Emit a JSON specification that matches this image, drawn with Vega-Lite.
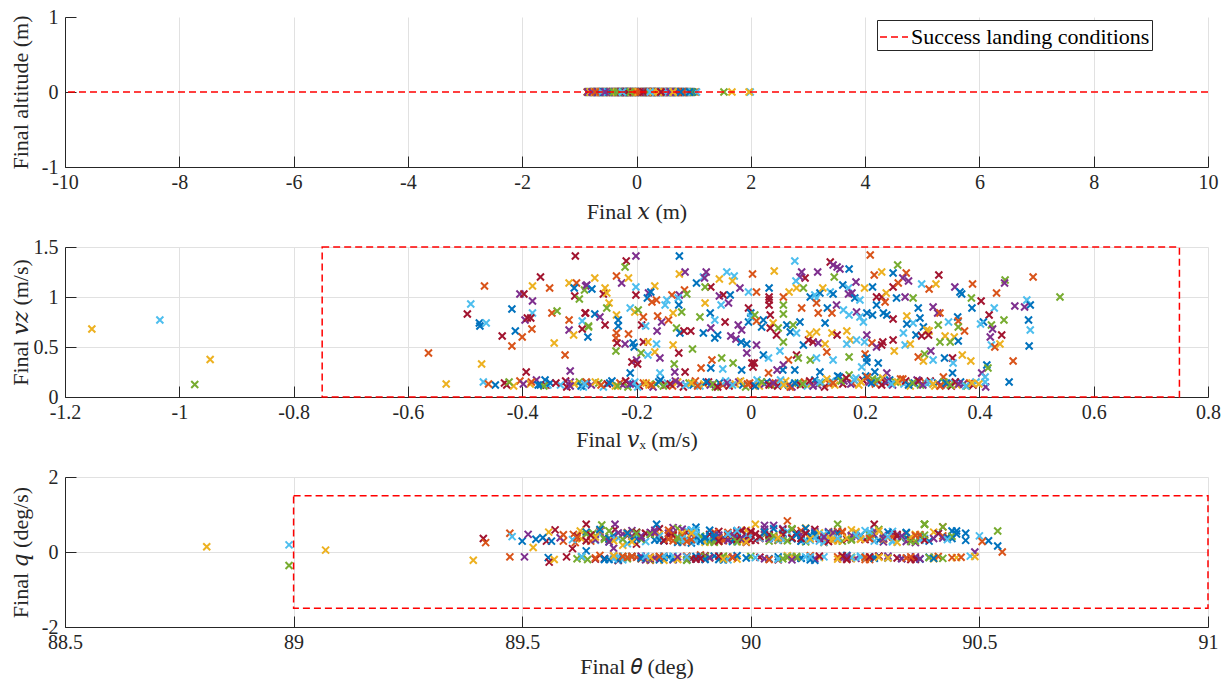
{
  "$schema": "https://vega.github.io/schema/vega-lite/v6.json",
  "background": "white",
  "padding": {"left": 8, "top": 7, "right": 10, "bottom": 6},
  "spacing": 80,
  "bounds": "flush",
  "config": {
    "view": {"stroke": null},
    "font": "Liberation Serif",
    "axis": {
      "labelFont": "Liberation Serif", "labelFontSize": 20, "labelColor": "#262626",
      "titleFont": "Liberation Serif, DejaVu Serif", "titleFontSize": 22, "titleFontWeight": "normal", "titleColor": "#262626",
      "domainColor": "#262626", "domainWidth": 1, "tickColor": "#262626", "tickWidth": 1, "tickSize": -11,
      "gridColor": "#e1e1e1", "gridWidth": 1, "labelFlush": false, "labelOverlap": false,
      "labelExpr": "'' + datum.value"
    },
    "axisX": {"titleY": 44, "titleBaseline": "middle", "labelPadding": 16},
    "axisY": {"titleX": -45, "titleY": 75, "titleBaseline": "middle", "titleAngle": -90, "titleAlign": "center", "labelPadding": 18}
  },
  "datasets": {
    "runs": [
{"c":2,"x":1.67,"vx":-1.153,"vz":0.68,"th":88.81,"q":0.14},
{"c":5,"x":1.99,"vx":-1.034,"vz":0.77,"th":88.99,"q":0.19},
{"c":4,"x":1.53,"vx":-0.973,"vz":0.125,"th":88.99,"q":-0.36},
{"c":2,"x":1.97,"vx":-0.946,"vz":0.375,"th":89.07,"q":0.05},
{"c":6,"x":0.42,"vx":-0.307,"vz":1.41,"th":89.415,"q":0.36},
{"c":6,"x":-0.31,"vx":-0.368,"vz":1.20,"th":89.61,"q":0.09},
{"c":1,"x":0.77,"vx":-0.466,"vz":1.11,"th":89.473,"q":0.50},
{"c":2,"x":-0.55,"vx":-0.382,"vz":1.11,"th":89.558,"q":0.53},
{"c":1,"x":0.12,"vx":-0.352,"vz":1.09,"th":89.59,"q":0.29},
{"c":2,"x":0.63,"vx":-0.318,"vz":1.14,"th":89.83,"q":0.44},
{"c":1,"x":-0.72,"vx":-0.305,"vz":1.14,"th":89.616,"q":0.25},
{"c":0,"x":0.28,"vx":-0.309,"vz":1.09,"th":89.50,"q":0.29},
{"c":3,"x":-0.18,"vx":-0.289,"vz":1.11,"th":89.513,"q":0.47},
{"c":4,"x":0.91,"vx":-0.291,"vz":1.07,"th":89.655,"q":0.50},
{"c":6,"x":-0.43,"vx":-0.308,"vz":1.01,"th":89.572,"q":0.59},
{"c":4,"x":0.05,"vx":-0.300,"vz":0.98,"th":89.74,"q":-0.12},
{"c":3,"x":0.57,"vx":-0.404,"vz":1.03,"th":89.583,"q":0.38},
{"c":6,"x":-0.64,"vx":-0.397,"vz":1.03,"th":89.553,"q":0.29},
{"c":3,"x":0.33,"vx":-0.382,"vz":0.96,"th":89.505,"q":-0.13},
{"c":5,"x":-0.09,"vx":-0.490,"vz":0.93,"th":89.478,"q":0.41},
{"c":6,"x":0.74,"vx":-0.496,"vz":0.83,"th":89.597,"q":-0.13},
{"c":0,"x":-0.27,"vx":-0.418,"vz":0.88,"th":89.53,"q":0.34},
{"c":5,"x":0.46,"vx":-0.382,"vz":0.84,"th":89.71,"q":0.37},
{"c":0,"x":-0.81,"vx":-0.475,"vz":0.74,"th":89.545,"q":0.38},
{"c":0,"x":0.19,"vx":-0.474,"vz":0.71,"th":89.557,"q":-0.15},
{"c":5,"x":0.85,"vx":-0.463,"vz":0.74,"th":89.66,"q":0.31},
{"c":3,"x":-0.37,"vx":-0.395,"vz":0.77,"th":89.70,"q":0.10},
{"c":6,"x":0.67,"vx":-0.391,"vz":0.79,"th":89.559,"q":-0.27},
{"c":6,"x":-0.05,"vx":-0.385,"vz":0.79,"th":89.703,"q":0.60},
{"c":1,"x":0.38,"vx":-0.348,"vz":0.84,"th":89.612,"q":0.47},
{"c":4,"x":-0.59,"vx":-0.339,"vz":0.86,"th":89.674,"q":0.72},
{"c":1,"x":1.03,"vx":-0.318,"vz":0.77,"th":89.473,"q":-0.13},
{"c":5,"x":-0.14,"vx":-0.295,"vz":0.76,"th":89.77,"q":0.28},
{"c":6,"x":0.24,"vx":-0.289,"vz":0.84,"th":89.64,"q":0.74},
{"c":4,"x":-0.68,"vx":-0.284,"vz":0.71,"th":89.643,"q":-0.20},
{"c":3,"x":0.54,"vx":-0.318,"vz":0.67,"th":89.703,"q":0.74},
{"c":2,"x":-0.22,"vx":-0.310,"vz":0.62,"th":89.627,"q":0.56},
{"c":6,"x":0.81,"vx":-0.295,"vz":0.68,"th":89.68,"q":-0.17},
{"c":0,"x":0.09,"vx":-0.285,"vz":0.60,"th":89.64,"q":0.53},
{"c":0,"x":-0.47,"vx":-0.412,"vz":0.66,"th":89.564,"q":0.29},
{"c":6,"x":0.35,"vx":-0.435,"vz":0.61,"th":89.62,"q":0.42},
{"c":1,"x":-0.76,"vx":-0.383,"vz":0.68,"th":89.59,"q":0.46},
{"c":1,"x":0.69,"vx":-0.400,"vz":0.60,"th":89.67,"q":-0.09},
{"c":1,"x":-0.02,"vx":-0.418,"vz":0.51,"th":89.73,"q":0.52},
{"c":2,"x":0.22,"vx":-0.344,"vz":0.54,"th":89.524,"q":0.12},
{"c":1,"x":-0.61,"vx":-0.564,"vz":0.44,"th":89.42,"q":0.25},
{"c":2,"x":0.48,"vx":-0.471,"vz":0.33,"th":89.57,"q":-0.20},
{"c":1,"x":-0.33,"vx":-0.325,"vz":0.42,"th":89.69,"q":0.33},
{"c":6,"x":0.88,"vx":-0.393,"vz":0.25,"th":89.75,"q":0.21},
{"c":3,"x":-0.11,"vx":-0.316,"vz":0.26,"th":89.79,"q":-0.15},
{"c":2,"x":0.31,"vx":-0.533,"vz":0.13,"th":89.393,"q":-0.22},
{"c":6,"x":-0.52,"vx":-0.427,"vz":0.12,"th":89.66,"q":-0.19},
{"c":1,"x":0.72,"vx":-0.404,"vz":0.16,"th":89.81,"q":-0.11},
{"c":2,"x":-0.29,"vx":-0.386,"vz":0.13,"th":89.63,"q":0.35},
{"c":3,"x":0.14,"vx":-0.375,"vz":0.17,"th":89.88,"q":0.45},
{"c":0,"x":-0.84,"vx":-0.368,"vz":0.12,"th":89.64,"q":0.03},
{"c":0,"x":0.59,"vx":-0.360,"vz":0.17,"th":89.72,"q":-0.16},
{"c":6,"x":-0.16,"vx":-0.358,"vz":0.12,"th":89.85,"q":0.26},
{"c":5,"x":0.43,"vx":-0.355,"vz":0.12,"th":89.76,"q":-0.18},
{"c":6,"x":-0.70,"vx":-0.324,"vz":0.16,"th":89.93,"q":0.55},
{"c":3,"x":0.26,"vx":-0.316,"vz":0.15,"th":89.68,"q":0.39},
{"c":4,"x":-0.08,"vx":-0.300,"vz":0.15,"th":89.91,"q":-0.14},
{"c":5,"x":0.95,"vx":-0.293,"vz":0.10,"th":89.78,"q":0.48},
{"c":0,"x":-0.39,"vx":-0.287,"vz":0.14,"th":89.86,"q":-0.21},
{"c":3,"x":0.61,"vx":-0.201,"vz":1.41,"th":89.96,"q":0.34},
{"c":6,"x":-0.24,"vx":-0.218,"vz":1.36,"th":89.80,"q":0.62},
{"c":4,"x":0.07,"vx":-0.220,"vz":1.30,"th":90.04,"q":0.29},
{"c":0,"x":-0.58,"vx":-0.125,"vz":1.41,"th":89.794,"q":0.74},
{"c":2,"x":0.79,"vx":-0.273,"vz":1.19,"th":89.72,"q":0.18},
{"c":1,"x":-0.12,"vx":-0.235,"vz":1.21,"th":89.89,"q":-0.08},
{"c":3,"x":0.36,"vx":-0.226,"vz":1.14,"th":89.83,"q":0.65},
{"c":2,"x":-0.79,"vx":-0.214,"vz":1.19,"th":90.01,"q":0.74},
{"c":3,"x":0.53,"vx":-0.287,"vz":1.12,"th":90.03,"q":0.71},
{"c":0,"x":-0.35,"vx":-0.278,"vz":1.08,"th":89.70,"q":0.44},
{"c":2,"x":0.17,"vx":-0.255,"vz":1.09,"th":89.95,"q":-0.13},
{"c":6,"x":-0.66,"vx":-0.258,"vz":1.03,"th":90.11,"q":0.36},
{"c":2,"x":0.84,"vx":-0.252,"vz":1.04,"th":89.84,"q":-0.19},
{"c":5,"x":-0.20,"vx":-0.201,"vz":1.10,"th":90.07,"q":0.51},
{"c":6,"x":0.41,"vx":-0.201,"vz":1.02,"th":89.92,"q":0.40},
{"c":2,"x":-0.46,"vx":-0.168,"vz":1.11,"th":90.15,"q":-0.15},
{"c":3,"x":0.03,"vx":-0.179,"vz":1.04,"th":89.74,"q":0.57},
{"c":0,"x":0.66,"vx":-0.175,"vz":1.05,"th":90.19,"q":0.32},
{"c":0,"x":-0.74,"vx":-0.181,"vz":0.99,"th":89.87,"q":0.24},
{"c":2,"x":0.29,"vx":-0.125,"vz":1.23,"th":90.08,"q":-0.10},
{"c":3,"x":-0.07,"vx":-0.115,"vz":1.25,"th":89.99,"q":0.46},
{"c":1,"x":0.93,"vx":-0.116,"vz":1.07,"th":90.08,"q":0.83},
{"c":1,"x":-0.42,"vx":-0.138,"vz":1.02,"th":89.78,"q":-0.22},
{"c":3,"x":0.49,"vx":-0.125,"vz":1.02,"th":90.22,"q":0.41},
{"c":4,"x":-0.19,"vx":-0.112,"vz":1.03,"th":90.19,"q":0.74},
{"c":0,"x":0.10,"vx":-0.095,"vz":1.14,"th":89.90,"q":0.30},
{"c":5,"x":-0.63,"vx":-0.083,"vz":1.20,"th":90.13,"q":-0.16},
{"c":3,"x":0.71,"vx":-0.078,"vz":1.25,"th":89.82,"q":0.50},
{"c":3,"x":-0.30,"vx":-0.081,"vz":1.19,"th":90.26,"q":0.35},
{"c":6,"x":0.21,"vx":-0.070,"vz":1.10,"th":90.27,"q":0.74},
{"c":4,"x":-0.86,"vx":-0.080,"vz":1.10,"th":89.94,"q":-0.11},
{"c":2,"x":0.56,"vx":-0.055,"vz":1.18,"th":90.05,"q":0.43},
{"c":5,"x":-0.10,"vx":-0.042,"vz":1.25,"th":89.86,"q":0.58},
{"c":5,"x":0.37,"vx":-0.029,"vz":1.21,"th":90.31,"q":0.27},
{"c":2,"x":-0.53,"vx":-0.032,"vz":1.16,"th":89.97,"q":-0.19},
{"c":3,"x":0.82,"vx":-0.019,"vz":1.09,"th":90.17,"q":0.54},
{"c":5,"x":-0.26,"vx":-0.004,"vz":1.05,"th":89.73,"q":0.22},
{"c":3,"x":0.13,"vx":-0.055,"vz":1.01,"th":90.36,"q":-0.13},
{"c":6,"x":-0.69,"vx":-0.048,"vz":1.02,"th":90.10,"q":0.47},
{"c":0,"x":0.62,"vx":-0.036,"vz":1.02,"th":89.88,"q":0.36},
{"c":3,"x":-0.15,"vx":-0.039,"vz":0.94,"th":90.23,"q":-0.17},
{"c":5,"x":0.27,"vx":-0.052,"vz":0.92,"th":89.67,"q":0.48},
{"c":2,"x":-0.45,"vx":-0.080,"vz":0.94,"th":90.33,"q":0.39},
{"c":6,"x":0.97,"vx":-0.004,"vz":0.89,"th":90.02,"q":-0.14},
{"c":0,"x":-0.04,"vx":0.000,"vz":0.84,"th":89.81,"q":0.30},
{"c":6,"x":0.44,"vx":-0.290,"vz":0.84,"th":90.14,"q":0.60},
{"c":0,"x":-0.78,"vx":-0.273,"vz":0.83,"th":89.93,"q":-0.20},
{"c":3,"x":0.16,"vx":-0.264,"vz":0.80,"th":90.29,"q":0.45},
{"c":4,"x":-0.34,"vx":-0.284,"vz":0.70,"th":89.76,"q":0.34},
{"c":6,"x":0.68,"vx":-0.255,"vz":0.72,"th":90.06,"q":-0.21},
{"c":2,"x":-0.13,"vx":-0.248,"vz":0.94,"th":89.98,"q":0.28},
{"c":4,"x":0.32,"vx":-0.252,"vz":0.89,"th":90.38,"q":0.74},
{"c":2,"x":-0.62,"vx":-0.235,"vz":0.82,"th":89.85,"q":0.41},
{"c":0,"x":0.76,"vx":-0.232,"vz":0.77,"th":90.21,"q":-0.09},
{"c":0,"x":-0.21,"vx":-0.232,"vz":0.71,"th":89.69,"q":0.27},
{"c":1,"x":0.08,"vx":-0.235,"vz":0.64,"th":90.12,"q":0.49},
{"c":1,"x":-0.49,"vx":-0.236,"vz":0.59,"th":89.91,"q":-0.16},
{"c":6,"x":0.58,"vx":-0.234,"vz":0.54,"th":90.25,"q":0.33},
{"c":3,"x":-0.01,"vx":-0.220,"vz":0.53,"th":89.79,"q":0.58},
{"c":1,"x":0.39,"vx":-0.214,"vz":0.63,"th":90.42,"q":0.67},
{"c":4,"x":-0.83,"vx":-0.236,"vz":0.46,"th":90.00,"q":-0.12},
{"c":5,"x":0.23,"vx":-0.211,"vz":0.89,"th":89.75,"q":0.43},
{"c":2,"x":-0.32,"vx":-0.203,"vz":0.85,"th":90.16,"q":0.25},
{"c":4,"x":0.86,"vx":-0.197,"vz":0.87,"th":89.62,"q":-0.18},
{"c":1,"x":-0.06,"vx":-0.188,"vz":0.80,"th":90.09,"q":0.38},
{"c":6,"x":0.52,"vx":-0.191,"vz":0.72,"th":89.86,"q":0.52},
{"c":5,"x":-0.56,"vx":-0.184,"vz":0.71,"th":90.30,"q":-0.15},
{"c":0,"x":0.15,"vx":-0.206,"vz":0.54,"th":89.95,"q":0.46},
{"c":0,"x":-0.23,"vx":-0.204,"vz":0.50,"th":90.18,"q":0.31},
{"c":6,"x":0.73,"vx":-0.188,"vz":0.55,"th":89.71,"q":-0.23},
{"c":2,"x":-0.67,"vx":-0.180,"vz":0.55,"th":90.34,"q":0.49},
{"c":4,"x":0.30,"vx":-0.192,"vz":0.44,"th":89.84,"q":0.63},
{"c":5,"x":-0.17,"vx":-0.180,"vz":0.42,"th":90.20,"q":-0.12},
{"c":6,"x":0.64,"vx":-0.208,"vz":0.35,"th":89.99,"q":0.37},
{"c":3,"x":-0.40,"vx":-0.200,"vz":0.37,"th":90.27,"q":0.56},
{"c":6,"x":0.06,"vx":-0.198,"vz":0.33,"th":89.78,"q":-0.14},
{"c":0,"x":0.90,"vx":-0.211,"vz":0.24,"th":90.11,"q":0.29},
{"c":5,"x":-0.75,"vx":-0.165,"vz":0.53,"th":89.89,"q":0.40},
{"c":2,"x":0.40,"vx":-0.168,"vz":0.45,"th":90.40,"q":-0.18},
{"c":3,"x":-0.28,"vx":-0.159,"vz":0.39,"th":89.72,"q":0.48},
{"c":3,"x":0.18,"vx":-0.164,"vz":0.66,"th":90.07,"q":0.62},
{"c":3,"x":-0.51,"vx":-0.156,"vz":0.75,"th":89.83,"q":-0.21},
{"c":1,"x":0.83,"vx":-0.163,"vz":0.81,"th":90.24,"q":0.35},
{"c":1,"x":-0.09,"vx":-0.173,"vz":0.95,"th":89.65,"q":0.29},
{"c":1,"x":0.47,"vx":-0.165,"vz":0.97,"th":90.13,"q":-0.10},
{"c":1,"x":-0.80,"vx":-0.144,"vz":0.77,"th":89.92,"q":0.53},
{"c":2,"x":0.25,"vx":-0.136,"vz":0.84,"th":90.32,"q":0.44},
{"c":5,"x":-0.36,"vx":-0.147,"vz":0.97,"th":89.80,"q":-0.17},
{"c":5,"x":0.60,"vx":-0.150,"vz":0.92,"th":90.04,"q":0.39},
{"c":5,"x":-0.03,"vx":-0.127,"vz":0.99,"th":90.37,"q":0.31},
{"c":0,"x":0.34,"vx":-0.126,"vz":0.92,"th":89.87,"q":0.58},
{"c":4,"x":-0.60,"vx":-0.121,"vz":0.85,"th":90.22,"q":-0.14},
{"c":4,"x":0.99,"vx":-0.130,"vz":0.69,"th":89.96,"q":0.45},
{"c":0,"x":-0.25,"vx":-0.124,"vz":0.64,"th":90.44,"q":0.36},
{"c":6,"x":0.11,"vx":-0.117,"vz":0.66,"th":89.77,"q":-0.19},
{"c":6,"x":-0.71,"vx":-0.105,"vz":0.66,"th":90.10,"q":0.52},
{"c":2,"x":0.70,"vx":-0.136,"vz":0.52,"th":89.90,"q":0.26},
{"c":6,"x":-0.19,"vx":-0.126,"vz":0.44,"th":90.28,"q":-0.11},
{"c":4,"x":0.45,"vx":-0.102,"vz":0.48,"th":89.68,"q":0.37},
{"c":4,"x":-0.44,"vx":-0.134,"vz":0.33,"th":90.03,"q":0.46},
{"c":6,"x":0.02,"vx":-0.115,"vz":0.25,"th":90.35,"q":-0.20},
{"c":3,"x":0.78,"vx":-0.133,"vz":0.25,"th":89.85,"q":0.61},
{"c":5,"x":-0.57,"vx":-0.159,"vz":0.24,"th":90.17,"q":0.33},
{"c":4,"x":0.26,"vx":-0.089,"vz":0.80,"th":89.94,"q":-0.16},
{"c":0,"x":-0.12,"vx":-0.083,"vz":0.64,"th":90.41,"q":0.50},
{"c":3,"x":0.55,"vx":-0.070,"vz":0.69,"th":89.74,"q":0.42},
{"c":0,"x":-0.85,"vx":-0.071,"vz":0.84,"th":90.06,"q":-0.13},
{"c":5,"x":0.36,"vx":-0.063,"vz":0.77,"th":90.25,"q":0.57},
{"c":6,"x":-0.31,"vx":-0.045,"vz":0.75,"th":89.81,"q":0.30},
{"c":0,"x":0.80,"vx":-0.063,"vz":0.59,"th":90.14,"q":-0.22},
{"c":0,"x":-0.07,"vx":-0.058,"vz":0.62,"th":89.97,"q":0.40},
{"c":3,"x":0.20,"vx":-0.035,"vz":0.61,"th":90.31,"q":0.48},
{"c":3,"x":-0.48,"vx":-0.026,"vz":0.58,"th":89.70,"q":-0.11},
{"c":0,"x":0.65,"vx":-0.017,"vz":0.55,"th":90.09,"q":0.35},
{"c":0,"x":-0.22,"vx":-0.007,"vz":0.53,"th":89.88,"q":0.66},
{"c":3,"x":0.12,"vx":-0.022,"vz":0.72,"th":90.20,"q":-0.18},
{"c":3,"x":-0.65,"vx":-0.016,"vz":0.67,"th":89.76,"q":0.38},
{"c":0,"x":0.92,"vx":-0.004,"vz":0.75,"th":90.39,"q":0.29},
{"c":5,"x":-0.38,"vx":0.000,"vz":0.80,"th":90.01,"q":-0.15},
{"c":3,"x":0.33,"vx":-0.007,"vz":0.44,"th":89.83,"q":0.51},
{"c":1,"x":-0.14,"vx":-0.068,"vz":0.37,"th":90.23,"q":0.43},
{"c":4,"x":0.50,"vx":-0.051,"vz":0.39,"th":89.63,"q":-0.14},
{"c":4,"x":-0.77,"vx":-0.031,"vz":0.34,"th":90.12,"q":0.27},
{"c":1,"x":0.04,"vx":-0.087,"vz":0.29,"th":89.92,"q":0.45},
{"c":0,"x":0.75,"vx":-0.070,"vz":0.29,"th":90.33,"q":-0.17},
{"c":0,"x":-0.27,"vx":-0.016,"vz":0.27,"th":89.79,"q":0.32},
{"c":6,"x":0.19,"vx":0.002,"vz":0.34,"th":90.07,"q":0.59},
{"c":5,"x":-0.54,"vx":-0.049,"vz":0.28,"th":89.95,"q":-0.21},
{"c":1,"x":0.87,"vx":0.209,"vz":1.42,"th":90.19,"q":0.50},
{"c":5,"x":-0.05,"vx":0.077,"vz":1.36,"th":89.86,"q":0.36},
{"c":6,"x":0.42,"vx":0.139,"vz":1.35,"th":90.28,"q":-0.12},
{"c":3,"x":-0.63,"vx":0.144,"vz":1.32,"th":90.05,"q":0.71},
{"c":3,"x":0.28,"vx":0.151,"vz":1.30,"th":89.73,"q":0.44},
{"c":3,"x":-0.20,"vx":0.156,"vz":1.28,"th":90.36,"q":0.25},
{"c":2,"x":0.61,"vx":0.041,"vz":1.26,"th":89.90,"q":-0.19},
{"c":1,"x":-0.42,"vx":0.003,"vz":1.23,"th":90.15,"q":0.39},
{"c":3,"x":0.09,"vx":0.089,"vz":1.25,"th":89.67,"q":0.55},
{"c":6,"x":0.94,"vx":0.095,"vz":1.19,"th":90.26,"q":-0.15},
{"c":3,"x":-0.82,"vx":0.086,"vz":1.20,"th":89.98,"q":0.34},
{"c":3,"x":0.38,"vx":0.117,"vz":1.25,"th":90.11,"q":0.47},
{"c":0,"x":-0.10,"vx":0.172,"vz":1.28,"th":89.82,"q":-0.13},
{"c":4,"x":0.23,"vx":0.146,"vz":1.20,"th":90.43,"q":0.40},
{"c":4,"x":-0.34,"vx":0.257,"vz":1.32,"th":90.38,"q":0.74},
{"c":1,"x":0.68,"vx":0.216,"vz":1.22,"th":89.93,"q":0.28},
{"c":2,"x":-0.58,"vx":0.229,"vz":1.25,"th":90.22,"q":-0.18},
{"c":0,"x":0.14,"vx":0.249,"vz":1.24,"th":89.69,"q":0.37},
{"c":1,"x":0.49,"vx":0.272,"vz":1.24,"th":90.03,"q":0.52},
{"c":3,"x":-0.16,"vx":0.266,"vz":1.19,"th":90.30,"q":-0.11},
{"c":3,"x":0.77,"vx":0.276,"vz":1.16,"th":89.87,"q":0.46},
{"c":5,"x":-0.45,"vx":0.079,"vz":1.16,"th":90.13,"q":0.31},
{"c":4,"x":0.01,"vx":0.092,"vz":1.09,"th":89.78,"q":-0.20},
{"c":2,"x":0.56,"vx":0.080,"vz":1.09,"th":90.40,"q":0.53},
{"c":0,"x":-0.70,"vx":0.032,"vz":1.09,"th":90.00,"q":0.42},
{"c":1,"x":0.30,"vx":0.010,"vz":1.05,"th":89.75,"q":-0.14},
{"c":2,"x":-0.03,"vx":0.067,"vz":1.05,"th":90.18,"q":0.30},
{"c":1,"x":0.85,"vx":0.057,"vz":1.00,"th":89.96,"q":0.49},
{"c":6,"x":-0.29,"vx":0.032,"vz":1.00,"th":90.32,"q":-0.16},
{"c":6,"x":0.17,"vx":0.032,"vz":0.97,"th":89.85,"q":0.39},
{"c":6,"x":-0.61,"vx":0.032,"vz":0.92,"th":90.09,"q":0.60},
{"c":4,"x":0.63,"vx":0.057,"vz":0.92,"th":89.72,"q":-0.12},
{"c":0,"x":-0.08,"vx":0.104,"vz":1.00,"th":90.24,"q":0.44},
{"c":5,"x":0.43,"vx":0.112,"vz":1.02,"th":89.91,"q":0.35},
{"c":0,"x":-0.49,"vx":0.121,"vz":1.04,"th":90.44,"q":0.56},
{"c":5,"x":0.06,"vx":0.115,"vz":0.99,"th":90.06,"q":-0.19},
{"c":2,"x":0.72,"vx":0.126,"vz":1.09,"th":89.80,"q":0.47},
{"c":5,"x":-0.24,"vx":0.139,"vz":1.05,"th":90.16,"q":0.26},
{"c":0,"x":0.35,"vx":0.144,"vz":1.03,"th":89.97,"q":-0.10},
{"c":0,"x":-0.74,"vx":0.161,"vz":1.12,"th":90.34,"q":0.38},
{"c":5,"x":0.24,"vx":0.171,"vz":1.09,"th":89.88,"q":0.58},
{"c":3,"x":-0.13,"vx":0.184,"vz":1.15,"th":90.21,"q":-0.17},
{"c":3,"x":0.90,"vx":0.171,"vz":1.03,"th":89.66,"q":0.33},
{"c":3,"x":-0.37,"vx":0.177,"vz":1.04,"th":90.04,"q":0.45},
{"c":0,"x":0.52,"vx":0.182,"vz":0.99,"th":90.27,"q":-0.14},
{"c":5,"x":-0.02,"vx":0.191,"vz":0.97,"th":89.84,"q":0.40},
{"c":2,"x":0.13,"vx":0.199,"vz":1.09,"th":90.12,"q":0.64},
{"c":0,"x":-0.55,"vx":0.213,"vz":1.10,"th":89.94,"q":-0.21},
{"c":6,"x":0.66,"vx":0.220,"vz":1.00,"th":90.35,"q":0.32},
{"c":6,"x":-0.18,"vx":0.229,"vz":1.00,"th":89.77,"q":0.49},
{"c":2,"x":0.31,"vx":0.237,"vz":1.04,"th":90.08,"q":-0.13},
{"c":0,"x":-0.66,"vx":0.255,"vz":0.99,"th":89.90,"q":0.37},
{"c":3,"x":0.81,"vx":0.270,"vz":1.00,"th":90.29,"q":0.27},
{"c":4,"x":-0.09,"vx":0.284,"vz":0.99,"th":89.73,"q":-0.18},
{"c":6,"x":0.45,"vx":0.249,"vz":1.10,"th":90.19,"q":0.54},
{"c":1,"x":-0.31,"vx":0.258,"vz":1.14,"th":90.42,"q":0.43},
{"c":1,"x":0.07,"vx":0.235,"vz":0.95,"th":89.86,"q":-0.11},
{"c":6,"x":0.96,"vx":0.034,"vz":0.82,"th":90.02,"q":0.36},
{"c":4,"x":-0.43,"vx":0.057,"vz":0.83,"th":89.64,"q":0.48},
{"c":1,"x":0.20,"vx":0.089,"vz":0.89,"th":90.25,"q":-0.20},
{"c":0,"x":-0.84,"vx":0.086,"vz":0.75,"th":89.96,"q":0.31},
{"c":1,"x":0.58,"vx":0.115,"vz":0.94,"th":90.11,"q":0.57},
{"c":1,"x":-0.15,"vx":0.118,"vz":0.84,"th":89.79,"q":-0.15},
{"c":0,"x":0.37,"vx":0.134,"vz":0.89,"th":90.37,"q":0.42},
{"c":1,"x":-0.52,"vx":0.142,"vz":0.84,"th":90.07,"q":0.34},
{"c":3,"x":0.74,"vx":0.150,"vz":0.92,"th":89.89,"q":-0.12},
{"c":5,"x":-0.04,"vx":0.162,"vz":0.87,"th":90.23,"q":0.51},
{"c":5,"x":0.27,"vx":0.172,"vz":0.82,"th":89.70,"q":0.39},
{"c":3,"x":-0.68,"vx":0.185,"vz":0.85,"th":90.14,"q":-0.17},
{"c":5,"x":0.50,"vx":0.191,"vz":0.80,"th":89.99,"q":0.46},
{"c":5,"x":-0.26,"vx":0.197,"vz":0.75,"th":90.31,"q":0.30},
{"c":0,"x":0.11,"vx":0.203,"vz":0.84,"th":89.83,"q":-0.19},
{"c":0,"x":0.89,"vx":0.213,"vz":0.82,"th":90.05,"q":0.62},
{"c":0,"x":-0.41,"vx":0.220,"vz":0.92,"th":89.75,"q":0.35},
{"c":0,"x":0.32,"vx":0.232,"vz":0.84,"th":90.39,"q":-0.14},
{"c":0,"x":-0.12,"vx":0.238,"vz":0.82,"th":89.92,"q":0.45},
{"c":6,"x":0.62,"vx":0.249,"vz":0.78,"th":90.17,"q":0.28},
{"c":2,"x":-0.73,"vx":0.273,"vz":0.81,"th":89.81,"q":-0.22},
{"c":5,"x":0.16,"vx":0.284,"vz":0.74,"th":90.26,"q":0.48},
{"c":0,"x":-0.21,"vx":0.022,"vz":0.77,"th":89.97,"q":0.55},
{"c":0,"x":0.54,"vx":0.019,"vz":0.70,"th":90.10,"q":-0.13},
{"c":4,"x":-0.57,"vx":0.007,"vz":0.82,"th":89.68,"q":0.34},
{"c":1,"x":0.03,"vx":0.010,"vz":0.76,"th":90.33,"q":0.41},
{"c":2,"x":0.79,"vx":0.039,"vz":0.74,"th":89.87,"q":-0.16},
{"c":4,"x":-0.36,"vx":0.048,"vz":0.69,"th":90.20,"q":0.29},
{"c":6,"x":0.25,"vx":0.045,"vz":0.62,"th":89.77,"q":0.50},
{"c":0,"x":-0.06,"vx":0.063,"vz":0.72,"th":90.04,"q":-0.18},
{"c":0,"x":0.70,"vx":0.069,"vz":0.65,"th":89.94,"q":0.38},
{"c":4,"x":-0.80,"vx":0.074,"vz":0.72,"th":90.28,"q":0.60},
{"c":5,"x":0.41,"vx":0.080,"vz":0.64,"th":89.71,"q":-0.11},
{"c":4,"x":-0.17,"vx":0.057,"vz":0.55,"th":90.13,"q":0.44},
{"c":5,"x":0.08,"vx":0.051,"vz":0.46,"th":89.85,"q":0.27},
{"c":6,"x":0.93,"vx":0.034,"vz":0.69,"th":90.36,"q":-0.20},
{"c":3,"x":-0.46,"vx":0.010,"vz":0.52,"th":90.00,"q":0.52},
{"c":0,"x":0.29,"vx":0.022,"vz":0.42,"th":89.74,"q":0.33},
{"c":5,"x":-0.23,"vx":0.031,"vz":0.39,"th":90.22,"q":-0.15},
{"c":6,"x":0.60,"vx":0.006,"vz":0.34,"th":89.91,"q":0.47},
{"c":6,"x":-0.64,"vx":0.004,"vz":0.30,"th":90.15,"q":0.36},
{"c":0,"x":0.18,"vx":0.092,"vz":0.52,"th":89.80,"q":-0.13},
{"c":6,"x":-0.11,"vx":0.101,"vz":0.57,"th":90.41,"q":0.49},
{"c":6,"x":0.84,"vx":0.109,"vz":0.55,"th":90.06,"q":0.31},
{"c":3,"x":-0.39,"vx":0.118,"vz":0.54,"th":89.88,"q":-0.19},
{"c":2,"x":0.47,"vx":0.130,"vz":0.53,"th":90.27,"q":0.42},
{"c":2,"x":-0.01,"vx":0.103,"vz":0.63,"th":89.67,"q":0.58},
{"c":2,"x":0.26,"vx":0.115,"vz":0.65,"th":90.09,"q":-0.12},
{"c":0,"x":-0.76,"vx":0.130,"vz":0.74,"th":89.98,"q":0.37},
{"c":2,"x":0.67,"vx":0.142,"vz":0.64,"th":90.32,"q":0.26},
{"c":6,"x":-0.28,"vx":0.151,"vz":0.62,"th":89.78,"q":-0.17},
{"c":2,"x":0.10,"vx":0.168,"vz":0.66,"th":90.18,"q":0.53},
{"c":2,"x":-0.53,"vx":0.174,"vz":0.57,"th":89.95,"q":0.44},
{"c":5,"x":0.76,"vx":0.168,"vz":0.53,"th":90.24,"q":-0.14},
{"c":5,"x":-0.08,"vx":0.185,"vz":0.57,"th":89.86,"q":0.32},
{"c":3,"x":0.35,"vx":0.203,"vz":0.62,"th":90.12,"q":0.50},
{"c":5,"x":-0.70,"vx":0.199,"vz":0.55,"th":89.72,"q":-0.21},
{"c":1,"x":0.55,"vx":0.212,"vz":0.54,"th":90.35,"q":0.39},
{"c":3,"x":-0.19,"vx":0.220,"vz":0.50,"th":90.03,"q":0.61},
{"c":6,"x":0.22,"vx":0.229,"vz":0.52,"th":89.90,"q":-0.10},
{"c":6,"x":-0.47,"vx":0.231,"vz":0.55,"th":90.21,"q":0.34},
{"c":1,"x":0.91,"vx":0.200,"vz":0.43,"th":89.83,"q":0.47},
{"c":0,"x":-0.14,"vx":0.203,"vz":0.39,"th":90.30,"q":-0.16},
{"c":0,"x":0.39,"vx":0.203,"vz":0.35,"th":89.96,"q":0.28},
{"c":5,"x":-0.59,"vx":0.194,"vz":0.30,"th":90.08,"q":0.55},
{"c":1,"x":0.04,"vx":0.133,"vz":0.45,"th":89.76,"q":-0.18},
{"c":5,"x":0.71,"vx":0.144,"vz":0.37,"th":90.38,"q":0.36},
{"c":4,"x":-0.33,"vx":0.104,"vz":0.37,"th":89.89,"q":0.42},
{"c":5,"x":0.19,"vx":0.115,"vz":0.39,"th":90.16,"q":-0.13},
{"c":6,"x":-0.83,"vx":0.080,"vz":0.42,"th":90.01,"q":0.31},
{"c":4,"x":0.48,"vx":0.083,"vz":0.39,"th":89.69,"q":0.56},
{"c":1,"x":-0.04,"vx":0.066,"vz":0.37,"th":90.26,"q":-0.20},
{"c":3,"x":0.82,"vx":0.057,"vz":0.32,"th":89.93,"q":0.45},
{"c":0,"x":-0.38,"vx":0.056,"vz":0.27,"th":90.11,"q":0.29},
{"c":0,"x":0.12,"vx":0.077,"vz":0.27,"th":89.81,"q":-0.15},
{"c":0,"x":0.58,"vx":0.121,"vz":0.25,"th":90.34,"q":0.51},
{"c":1,"x":-0.25,"vx":0.031,"vz":0.24,"th":90.05,"q":0.38},
{"c":3,"x":0.30,"vx":0.046,"vz":0.27,"th":89.74,"q":-0.12},
{"c":4,"x":-0.67,"vx":0.172,"vz":0.40,"th":90.23,"q":0.43},
{"c":6,"x":0.64,"vx":0.249,"vz":0.57,"th":89.97,"q":0.34},
{"c":2,"x":-0.10,"vx":0.251,"vz":0.46,"th":90.45,"q":-0.15},
{"c":5,"x":0.23,"vx":0.270,"vz":0.52,"th":89.87,"q":0.59},
{"c":2,"x":-0.50,"vx":0.279,"vz":0.53,"th":90.19,"q":0.30},
{"c":5,"x":0.87,"vx":0.267,"vz":0.64,"th":89.77,"q":-0.19},
{"c":0,"x":-0.20,"vx":0.289,"vz":0.62,"th":90.07,"q":0.48},
{"c":0,"x":0.44,"vx":0.273,"vz":0.73,"th":90.29,"q":0.37},
{"c":0,"x":-0.78,"vx":0.223,"vz":0.34,"th":89.92,"q":-0.11},
{"c":3,"x":0.05,"vx":0.238,"vz":0.24,"th":90.14,"q":0.54},
{"c":0,"x":0.69,"vx":0.217,"vz":0.25,"th":89.84,"q":0.26},
{"c":6,"x":-0.32,"vx":0.329,"vz":1.22,"th":90.36,"q":-0.17},
{"c":5,"x":0.15,"vx":0.299,"vz":1.13,"th":90.00,"q":0.41},
{"c":1,"x":-0.62,"vx":0.312,"vz":1.08,"th":89.79,"q":0.49},
{"c":2,"x":0.53,"vx":0.324,"vz":1.13,"th":90.25,"q":-0.14},
{"c":3,"x":-0.09,"vx":0.357,"vz":1.10,"th":89.94,"q":0.35},
{"c":0,"x":0.28,"vx":0.366,"vz":1.05,"th":90.12,"q":0.63},
{"c":0,"x":-0.43,"vx":0.369,"vz":1.03,"th":89.71,"q":-0.21},
{"c":1,"x":0.95,"vx":0.388,"vz":1.13,"th":90.32,"q":0.44},
{"c":4,"x":-0.16,"vx":0.386,"vz":0.99,"th":90.06,"q":0.32},
{"c":6,"x":0.36,"vx":0.403,"vz":0.96,"th":89.86,"q":-0.13},
{"c":1,"x":-0.72,"vx":0.430,"vz":1.04,"th":90.20,"q":0.52},
{"c":4,"x":0.13,"vx":0.445,"vz":1.17,"th":90.54,"q":0.56},
{"c":3,"x":-0.27,"vx":0.444,"vz":1.14,"th":89.98,"q":0.38},
{"c":1,"x":0.59,"vx":0.494,"vz":1.20,"th":90.55,"q":0.00},
{"c":4,"x":-0.52,"vx":0.541,"vz":1.00,"th":90.38,"q":0.74},
{"c":5,"x":0.80,"vx":0.483,"vz":0.97,"th":90.50,"q":0.43},
{"c":0,"x":-0.05,"vx":0.489,"vz":0.92,"th":90.52,"q":0.30},
{"c":3,"x":0.46,"vx":0.462,"vz":0.91,"th":90.49,"q":0.00},
{"c":3,"x":-0.35,"vx":0.479,"vz":0.90,"th":90.27,"q":0.46},
{"c":0,"x":0.21,"vx":0.486,"vz":0.77,"th":90.54,"q":0.16},
{"c":5,"x":-0.81,"vx":0.489,"vz":0.67,"th":89.90,"q":-0.17},
{"c":0,"x":0.68,"vx":0.487,"vz":0.51,"th":90.47,"q":0.50},
{"c":0,"x":-0.13,"vx":0.387,"vz":0.89,"th":90.45,"q":0.56},
{"c":5,"x":0.33,"vx":0.426,"vz":0.89,"th":90.15,"q":0.29},
{"c":6,"x":-0.55,"vx":0.417,"vz":0.82,"th":89.82,"q":0.44},
{"c":0,"x":0.07,"vx":0.407,"vz":0.75,"th":90.37,"q":-0.19},
{"c":5,"x":0.86,"vx":0.402,"vz":0.73,"th":90.02,"q":0.37},
{"c":4,"x":-0.24,"vx":0.421,"vz":0.72,"th":89.75,"q":0.53},
{"c":3,"x":0.40,"vx":0.423,"vz":0.68,"th":90.21,"q":-0.12},
{"c":4,"x":-0.65,"vx":0.443,"vz":0.77,"th":90.42,"q":0.67},
{"c":6,"x":0.17,"vx":0.439,"vz":0.62,"th":89.95,"q":0.33},
{"c":3,"x":-0.06,"vx":0.419,"vz":0.60,"th":90.10,"q":-0.16},
{"c":5,"x":0.74,"vx":0.421,"vz":0.52,"th":89.88,"q":0.47},
{"c":1,"x":-0.40,"vx":0.427,"vz":0.50,"th":90.506,"q":0.28},
{"c":2,"x":0.24,"vx":0.436,"vz":0.53,"th":90.30,"q":0.39},
{"c":1,"x":-0.86,"vx":0.459,"vz":0.36,"th":89.73,"q":-0.14},
{"c":0,"x":0.51,"vx":0.413,"vz":0.32,"th":90.17,"q":0.51},
{"c":4,"x":-0.18,"vx":0.415,"vz":0.29,"th":89.97,"q":0.27},
{"c":3,"x":0.09,"vx":0.404,"vz":0.24,"th":90.33,"q":-0.18},
{"c":5,"x":0.63,"vx":0.410,"vz":0.20,"th":89.80,"q":0.42},
{"c":3,"x":-0.30,"vx":0.411,"vz":0.10,"th":90.04,"q":0.36},
{"c":5,"x":1.05,"vx":0.410,"vz":0.15,"th":90.24,"q":-0.11},
{"c":0,"x":-0.60,"vx":0.452,"vz":0.15,"th":89.91,"q":0.58},
{"c":0,"x":0.31,"vx":0.293,"vz":0.89,"th":90.14,"q":0.45},
{"c":0,"x":-0.11,"vx":0.296,"vz":0.79,"th":89.68,"q":-0.20},
{"c":0,"x":0.57,"vx":0.302,"vz":0.70,"th":90.28,"q":0.31},
{"c":2,"x":-0.48,"vx":0.308,"vz":0.67,"th":89.85,"q":0.50},
{"c":2,"x":0.14,"vx":0.312,"vz":0.66,"th":90.08,"q":-0.15},
{"c":3,"x":0.83,"vx":0.319,"vz":0.90,"th":90.40,"q":0.36},
{"c":3,"x":-0.21,"vx":0.327,"vz":0.84,"th":89.76,"q":0.43},
{"c":1,"x":0.38,"vx":0.331,"vz":0.84,"th":90.19,"q":-0.13},
{"c":4,"x":-0.75,"vx":0.328,"vz":0.72,"th":89.93,"q":0.29},
{"c":5,"x":0.00,"vx":0.346,"vz":0.75,"th":90.31,"q":0.55},
{"c":0,"x":0.72,"vx":0.362,"vz":0.80,"th":89.87,"q":-0.18},
{"c":1,"x":-0.37,"vx":0.363,"vz":0.76,"th":90.05,"q":0.40},
{"c":4,"x":0.27,"vx":0.363,"vz":0.70,"th":90.22,"q":0.34},
{"c":1,"x":-0.15,"vx":0.374,"vz":0.66,"th":89.72,"q":-0.12},
{"c":2,"x":0.65,"vx":0.340,"vz":0.61,"th":90.36,"q":0.47},
{"c":2,"x":-0.56,"vx":0.356,"vz":0.60,"th":89.99,"q":0.58},
{"c":0,"x":0.10,"vx":0.363,"vz":0.56,"th":90.13,"q":-0.21},
{"c":4,"x":0.89,"vx":0.349,"vz":0.55,"th":89.84,"q":0.32},
{"c":4,"x":-0.28,"vx":0.331,"vz":0.55,"th":90.26,"q":0.44},
{"c":6,"x":0.42,"vx":0.311,"vz":0.62,"th":89.96,"q":-0.14},
{"c":6,"x":-0.69,"vx":0.299,"vz":0.61,"th":90.09,"q":0.37},
{"c":3,"x":0.19,"vx":0.315,"vz":0.46,"th":89.78,"q":0.52},
{"c":1,"x":-0.02,"vx":0.293,"vz":0.40,"th":90.34,"q":-0.16},
{"c":4,"x":0.78,"vx":0.304,"vz":0.43,"th":89.92,"q":0.28},
{"c":2,"x":-0.44,"vx":0.302,"vz":0.36,"th":90.18,"q":0.49},
{"c":5,"x":0.34,"vx":0.319,"vz":0.37,"th":89.70,"q":-0.19},
{"c":0,"x":-0.12,"vx":0.339,"vz":0.39,"th":90.43,"q":0.38},
{"c":6,"x":0.55,"vx":0.353,"vz":0.39,"th":90.00,"q":0.31},
{"c":5,"x":-0.79,"vx":0.354,"vz":0.34,"th":89.83,"q":-0.11},
{"c":2,"x":0.20,"vx":0.370,"vz":0.42,"th":90.23,"q":0.54},
{"c":2,"x":-0.33,"vx":0.385,"vz":0.36,"th":89.95,"q":0.42},
{"c":0,"x":0.61,"vx":0.353,"vz":0.24,"th":90.11,"q":-0.17},
{"c":1,"x":-0.07,"vx":0.337,"vz":0.20,"th":90.29,"q":0.35},
{"c":5,"x":0.37,"vx":-0.468,"vz":0.15,"th":89.61,"q":0.33},
{"c":0,"x":-0.58,"vx":-0.447,"vz":0.12,"th":89.88,"q":-0.12},
{"c":6,"x":0.12,"vx":-0.431,"vz":0.14,"th":90.07,"q":0.46},
{"c":2,"x":0.79,"vx":-0.415,"vz":0.11,"th":89.74,"q":0.27},
{"c":3,"x":-0.27,"vx":-0.398,"vz":0.13,"th":90.21,"q":-0.17},
{"c":1,"x":0.51,"vx":-0.384,"vz":0.15,"th":89.95,"q":0.52},
{"c":4,"x":-0.70,"vx":-0.362,"vz":0.11,"th":90.33,"q":0.38},
{"c":0,"x":0.04,"vx":-0.351,"vz":0.14,"th":89.69,"q":-0.20},
{"c":5,"x":0.88,"vx":-0.333,"vz":0.12,"th":90.12,"q":0.31},
{"c":6,"x":-0.39,"vx":-0.322,"vz":0.10,"th":89.83,"q":0.44},
{"c":2,"x":0.23,"vx":-0.309,"vz":0.13,"th":90.40,"q":-0.14},
{"c":0,"x":-0.13,"vx":-0.297,"vz":0.11,"th":89.97,"q":0.57},
{"c":1,"x":0.66,"vx":-0.288,"vz":0.15,"th":90.18,"q":0.35},
{"c":3,"x":-0.80,"vx":-0.279,"vz":0.12,"th":89.76,"q":-0.11},
{"c":4,"x":0.30,"vx":-0.266,"vz":0.14,"th":90.04,"q":0.42},
{"c":5,"x":-0.05,"vx":-0.258,"vz":0.10,"th":90.27,"q":0.29},
{"c":6,"x":0.94,"vx":-0.251,"vz":0.13,"th":89.87,"q":-0.18},
{"c":0,"x":-0.46,"vx":-0.243,"vz":0.16,"th":90.14,"q":0.50},
{"c":2,"x":0.18,"vx":-0.237,"vz":0.11,"th":89.66,"q":0.40},
{"c":1,"x":-0.21,"vx":-0.229,"vz":0.14,"th":90.35,"q":-0.13},
{"c":3,"x":0.60,"vx":-0.224,"vz":0.12,"th":89.92,"q":0.34},
{"c":4,"x":-0.62,"vx":-0.215,"vz":0.10,"th":90.09,"q":0.61},
{"c":0,"x":0.07,"vx":-0.206,"vz":0.13,"th":89.80,"q":-0.21},
{"c":5,"x":0.73,"vx":-0.203,"vz":0.15,"th":90.24,"q":0.45},
{"c":6,"x":-0.34,"vx":-0.195,"vz":0.11,"th":89.99,"q":0.26},
{"c":1,"x":0.27,"vx":-0.188,"vz":0.14,"th":90.44,"q":-0.15},
{"c":2,"x":-0.11,"vx":-0.178,"vz":0.12,"th":89.73,"q":0.48},
{"c":3,"x":0.84,"vx":-0.171,"vz":0.10,"th":90.16,"q":0.37},
{"c":4,"x":-0.53,"vx":-0.166,"vz":0.13,"th":89.90,"q":-0.12},
{"c":0,"x":0.42,"vx":-0.158,"vz":0.17,"th":90.30,"q":0.53},
{"c":6,"x":-0.02,"vx":-0.149,"vz":0.12,"th":89.64,"q":0.30},
{"c":5,"x":0.57,"vx":-0.146,"vz":0.14,"th":90.06,"q":-0.19},
{"c":1,"x":-0.75,"vx":-0.137,"vz":0.11,"th":89.85,"q":0.43},
{"c":2,"x":0.15,"vx":-0.128,"vz":0.15,"th":90.22,"q":0.59},
{"c":3,"x":-0.30,"vx":-0.123,"vz":0.13,"th":89.96,"q":-0.14},
{"c":6,"x":0.69,"vx":-0.118,"vz":0.10,"th":90.38,"q":0.32},
{"c":4,"x":-0.17,"vx":-0.108,"vz":0.14,"th":89.78,"q":0.47},
{"c":0,"x":0.34,"vx":-0.101,"vz":0.12,"th":90.11,"q":-0.16},
{"c":1,"x":-0.66,"vx":-0.097,"vz":0.16,"th":89.93,"q":0.36},
{"c":5,"x":0.91,"vx":-0.089,"vz":0.11,"th":90.26,"q":0.54},
{"c":2,"x":-0.07,"vx":-0.082,"vz":0.13,"th":89.70,"q":-0.10},
{"c":6,"x":0.20,"vx":-0.074,"vz":0.15,"th":90.02,"q":0.41},
{"c":3,"x":-0.48,"vx":-0.071,"vz":0.12,"th":90.34,"q":0.28},
{"c":4,"x":0.62,"vx":-0.062,"vz":0.10,"th":89.86,"q":-0.22},
{"c":0,"x":-0.24,"vx":-0.055,"vz":0.14,"th":90.19,"q":0.49},
{"c":1,"x":0.10,"vx":-0.049,"vz":0.12,"th":89.62,"q":0.38},
{"c":5,"x":0.76,"vx":-0.044,"vz":0.16,"th":90.08,"q":-0.13},
{"c":6,"x":-0.57,"vx":-0.038,"vz":0.11,"th":89.98,"q":0.56},
{"c":2,"x":0.39,"vx":-0.027,"vz":0.13,"th":90.29,"q":0.33},
{"c":3,"x":-0.15,"vx":-0.021,"vz":0.15,"th":89.79,"q":-0.17},
{"c":0,"x":0.53,"vx":-0.014,"vz":0.12,"th":90.13,"q":0.44},
{"c":4,"x":-0.83,"vx":-0.009,"vz":0.10,"th":89.91,"q":0.27},
{"c":1,"x":0.26,"vx":-0.002,"vz":0.14,"th":90.41,"q":-0.12},
{"c":6,"x":-0.36,"vx":0.004,"vz":0.12,"th":89.75,"q":0.52},
{"c":5,"x":0.82,"vx":0.011,"vz":0.17,"th":90.05,"q":0.35},
{"c":2,"x":-0.09,"vx":0.015,"vz":0.11,"th":89.84,"q":-0.20},
{"c":3,"x":0.47,"vx":0.024,"vz":0.13,"th":90.23,"q":0.42},
{"c":0,"x":-0.68,"vx":0.028,"vz":0.15,"th":89.67,"q":0.60},
{"c":4,"x":0.13,"vx":0.036,"vz":0.12,"th":90.10,"q":-0.15},
{"c":1,"x":0.71,"vx":0.043,"vz":0.14,"th":89.94,"q":0.30},
{"c":6,"x":-0.28,"vx":0.047,"vz":0.11,"th":90.32,"q":0.47},
{"c":5,"x":0.32,"vx":0.055,"vz":0.13,"th":89.81,"q":-0.11},
{"c":2,"x":-0.51,"vx":0.061,"vz":0.16,"th":90.17,"q":0.39},
{"c":0,"x":0.97,"vx":0.066,"vz":0.12,"th":89.97,"q":0.55},
{"c":3,"x":-0.19,"vx":0.072,"vz":0.10,"th":90.37,"q":-0.18},
{"c":4,"x":0.44,"vx":0.083,"vz":0.14,"th":89.72,"q":0.34},
{"c":6,"x":-0.77,"vx":0.087,"vz":0.12,"th":90.04,"q":0.46},
{"c":1,"x":0.16,"vx":0.094,"vz":0.15,"th":90.25,"q":-0.14},
{"c":5,"x":-0.04,"vx":0.099,"vz":0.11,"th":89.88,"q":0.28},
{"c":2,"x":0.58,"vx":0.106,"vz":0.13,"th":90.15,"q":0.51},
{"c":0,"x":-0.41,"vx":0.112,"vz":0.17,"th":89.68,"q":-0.19},
{"c":3,"x":0.29,"vx":0.117,"vz":0.12,"th":90.42,"q":0.37},
{"c":4,"x":-0.12,"vx":0.124,"vz":0.14,"th":89.96,"q":0.43},
{"c":6,"x":0.86,"vx":0.129,"vz":0.10,"th":90.20,"q":-0.10},
{"c":1,"x":-0.60,"vx":0.138,"vz":0.13,"th":89.82,"q":0.58},
{"c":5,"x":0.08,"vx":0.141,"vz":0.16,"th":90.07,"q":0.32},
{"c":2,"x":0.64,"vx":0.147,"vz":0.12,"th":90.30,"q":-0.16},
{"c":0,"x":-0.32,"vx":0.155,"vz":0.20,"th":89.90,"q":0.40},
{"c":6,"x":0.22,"vx":0.161,"vz":0.13,"th":90.12,"q":0.49},
{"c":3,"x":-0.85,"vx":0.163,"vz":0.16,"th":89.77,"q":-0.21},
{"c":4,"x":0.48,"vx":0.172,"vz":0.22,"th":90.36,"q":0.29},
{"c":1,"x":-0.06,"vx":0.178,"vz":0.14,"th":90.00,"q":0.54},
{"c":5,"x":0.75,"vx":0.184,"vz":0.19,"th":89.86,"q":-0.13},
{"c":2,"x":-0.44,"vx":0.189,"vz":0.12,"th":90.18,"q":0.36},
{"c":6,"x":0.11,"vx":0.196,"vz":0.17,"th":89.65,"q":0.45},
{"c":0,"x":0.92,"vx":0.201,"vz":0.21,"th":90.27,"q":-0.17},
{"c":3,"x":-0.23,"vx":0.207,"vz":0.15,"th":89.95,"q":0.31},
{"c":4,"x":0.36,"vx":0.213,"vz":0.18,"th":90.09,"q":0.62},
{"c":1,"x":-0.71,"vx":0.218,"vz":0.13,"th":89.80,"q":-0.12},
{"c":5,"x":0.55,"vx":0.226,"vz":0.16,"th":90.33,"q":0.41},
{"c":2,"x":-0.16,"vx":0.231,"vz":0.19,"th":89.99,"q":0.27},
{"c":6,"x":0.24,"vx":0.236,"vz":0.14,"th":90.21,"q":-0.20},
{"c":0,"x":-0.54,"vx":0.243,"vz":0.17,"th":89.73,"q":0.50},
{"c":3,"x":0.80,"vx":0.248,"vz":0.12,"th":90.06,"q":0.38},
{"c":4,"x":0.02,"vx":0.253,"vz":0.15,"th":90.39,"q":-0.15},
{"c":1,"x":-0.37,"vx":0.262,"vz":0.18,"th":89.87,"q":0.33},
{"c":5,"x":0.45,"vx":0.268,"vz":0.13,"th":90.16,"q":0.47},
{"c":6,"x":-0.10,"vx":0.271,"vz":0.16,"th":89.93,"q":-0.11},
{"c":2,"x":0.67,"vx":0.279,"vz":0.11,"th":90.28,"q":0.56},
{"c":0,"x":-0.64,"vx":0.286,"vz":0.14,"th":89.69,"q":0.35},
{"c":3,"x":0.19,"vx":0.291,"vz":0.17,"th":90.03,"q":-0.18},
{"c":4,"x":-0.26,"vx":0.297,"vz":0.12,"th":90.44,"q":0.42},
{"c":1,"x":0.89,"vx":0.304,"vz":0.15,"th":89.83,"q":0.30},
{"c":5,"x":-0.03,"vx":0.309,"vz":0.13,"th":90.13,"q":-0.13},
{"c":6,"x":0.50,"vx":0.314,"vz":0.16,"th":89.97,"q":0.51},
{"c":2,"x":-0.79,"vx":0.322,"vz":0.11,"th":90.35,"q":0.39},
{"c":0,"x":0.28,"vx":0.327,"vz":0.14,"th":89.76,"q":-0.16},
{"c":3,"x":-0.14,"vx":0.333,"vz":0.12,"th":90.22,"q":0.44},
{"c":4,"x":0.70,"vx":0.338,"vz":0.15,"th":89.92,"q":0.26},
{"c":1,"x":-0.47,"vx":0.344,"vz":0.13,"th":90.46,"q":-0.14},
{"c":6,"x":0.09,"vx":0.351,"vz":0.11,"th":90.01,"q":0.48},
{"c":5,"x":0.61,"vx":0.356,"vz":0.14,"th":89.85,"q":0.36},
{"c":2,"x":-0.31,"vx":0.361,"vz":0.12,"th":90.19,"q":-0.19},
{"c":0,"x":0.38,"vx":0.367,"vz":0.15,"th":90.47,"q":0.31},
{"c":3,"x":-0.67,"vx":0.372,"vz":0.13,"th":89.79,"q":0.53},
{"c":4,"x":0.14,"vx":0.378,"vz":0.11,"th":90.10,"q":-0.12},
{"c":1,"x":0.83,"vx":0.383,"vz":0.14,"th":90.31,"q":0.40},
{"c":6,"x":-0.20,"vx":0.389,"vz":0.12,"th":89.95,"q":0.45},
{"c":5,"x":0.40,"vx":0.394,"vz":0.15,"th":90.48,"q":-0.11},
{"c":2,"x":-0.50,"vx":0.399,"vz":0.13,"th":90.24,"q":0.34},
{"c":1,"x":0.05,"vx":-0.459,"vz":0.13,"th":89.66,"q":-0.16},
{"c":4,"x":0.63,"vx":-0.423,"vz":0.15,"th":90.05,"q":0.43},
{"c":0,"x":-0.35,"vx":-0.372,"vz":0.12,"th":89.89,"q":0.29},
{"c":6,"x":0.27,"vx":-0.341,"vz":0.14,"th":90.26,"q":-0.13},
{"c":3,"x":-0.73,"vx":-0.316,"vz":0.11,"th":89.71,"q":0.51},
{"c":5,"x":0.85,"vx":-0.291,"vz":0.13,"th":90.14,"q":0.37},
{"c":2,"x":-0.08,"vx":-0.272,"vz":0.15,"th":89.94,"q":-0.19},
{"c":1,"x":0.41,"vx":-0.262,"vz":0.12,"th":90.37,"q":0.46},
{"c":0,"x":-0.56,"vx":-0.247,"vz":0.14,"th":89.80,"q":0.32},
{"c":4,"x":0.16,"vx":-0.233,"vz":0.11,"th":90.08,"q":-0.14},
{"c":6,"x":0.74,"vx":-0.219,"vz":0.16,"th":89.98,"q":0.58},
{"c":3,"x":-0.29,"vx":-0.211,"vz":0.13,"th":90.29,"q":0.35},
{"c":5,"x":0.32,"vx":-0.198,"vz":0.10,"th":89.63,"q":-0.12},
{"c":2,"x":-0.81,"vx":-0.183,"vz":0.14,"th":90.17,"q":0.41},
{"c":1,"x":0.56,"vx":-0.174,"vz":0.12,"th":89.86,"q":0.28},
{"c":0,"x":-0.01,"vx":-0.161,"vz":0.15,"th":90.40,"q":-0.17},
{"c":4,"x":0.90,"vx":-0.153,"vz":0.11,"th":89.75,"q":0.49},
{"c":6,"x":-0.42,"vx":-0.141,"vz":0.13,"th":90.11,"q":0.36},
{"c":3,"x":0.21,"vx":-0.132,"vz":0.16,"th":89.91,"q":-0.15},
{"c":5,"x":-0.18,"vx":-0.114,"vz":0.12,"th":90.23,"q":0.44},
{"c":2,"x":0.66,"vx":-0.104,"vz":0.14,"th":89.70,"q":0.30},
{"c":1,"x":-0.63,"vx":-0.093,"vz":0.11,"th":90.04,"q":-0.20},
{"c":0,"x":0.35,"vx":-0.078,"vz":0.15,"th":90.34,"q":0.52},
{"c":4,"x":-0.12,"vx":-0.066,"vz":0.13,"th":89.84,"q":0.39},
{"c":6,"x":0.78,"vx":-0.058,"vz":0.10,"th":90.15,"q":-0.11},
{"c":3,"x":-0.38,"vx":-0.041,"vz":0.14,"th":89.96,"q":0.47},
{"c":5,"x":0.13,"vx":-0.032,"vz":0.12,"th":90.43,"q":0.33},
{"c":2,"x":-0.74,"vx":-0.018,"vz":0.16,"th":89.78,"q":-0.14},
{"c":1,"x":0.48,"vx":-0.006,"vz":0.13,"th":90.20,"q":0.55},
{"c":0,"x":-0.22,"vx":0.008,"vz":0.11,"th":89.92,"q":0.38},
{"c":4,"x":0.95,"vx":0.019,"vz":0.15,"th":90.07,"q":-0.18},
{"c":6,"x":0.06,"vx":0.032,"vz":0.12,"th":90.32,"q":0.42},
{"c":3,"x":-0.52,"vx":0.039,"vz":0.14,"th":89.69,"q":0.27},
{"c":5,"x":0.54,"vx":0.052,"vz":0.17,"th":90.12,"q":-0.13},
{"c":2,"x":-0.10,"vx":0.058,"vz":0.12,"th":89.87,"q":0.50},
{"c":1,"x":0.25,"vx":0.069,"vz":0.10,"th":90.26,"q":0.36},
{"c":0,"x":-0.69,"vx":0.077,"vz":0.14,"th":89.99,"q":-0.16},
{"c":4,"x":0.72,"vx":0.091,"vz":0.13,"th":90.38,"q":0.45},
{"c":6,"x":-0.27,"vx":0.103,"vz":0.16,"th":89.81,"q":0.31},
{"c":3,"x":0.17,"vx":0.109,"vz":0.11,"th":90.09,"q":-0.21},
{"c":5,"x":0.87,"vx":0.121,"vz":0.15,"th":89.95,"q":0.48},
{"c":2,"x":-0.45,"vx":0.133,"vz":0.18,"th":90.21,"q":0.37},
{"c":1,"x":0.03,"vx":0.144,"vz":0.14,"th":89.74,"q":-0.12},
{"c":0,"x":0.60,"vx":0.152,"vz":0.21,"th":90.03,"q":0.53},
{"c":4,"x":-0.33,"vx":0.158,"vz":0.16,"th":90.35,"q":0.28},
{"c":6,"x":0.31,"vx":0.167,"vz":0.19,"th":89.88,"q":-0.19},
{"c":3,"x":-0.78,"vx":0.175,"vz":0.13,"th":90.16,"q":0.40},
{"c":5,"x":0.46,"vx":0.181,"vz":0.17,"th":89.97,"q":0.57},
{"c":2,"x":-0.06,"vx":0.193,"vz":0.15,"th":90.28,"q":-0.14},
{"c":1,"x":0.81,"vx":0.204,"vz":0.20,"th":89.82,"q":0.34},
{"c":0,"x":-0.49,"vx":0.211,"vz":0.14,"th":90.10,"q":0.46},
{"c":4,"x":0.20,"vx":0.221,"vz":0.17,"th":90.42,"q":-0.17},
{"c":6,"x":-0.16,"vx":0.229,"vz":0.12,"th":89.93,"q":0.29},
{"c":3,"x":0.68,"vx":0.239,"vz":0.16,"th":90.18,"q":0.51},
{"c":5,"x":-0.61,"vx":0.246,"vz":0.13,"th":89.77,"q":-0.11},
{"c":2,"x":0.38,"vx":0.257,"vz":0.15,"th":90.06,"q":0.38},
{"c":1,"x":-0.02,"vx":0.266,"vz":0.18,"th":90.36,"q":0.44},
{"c":0,"x":0.93,"vx":0.276,"vz":0.12,"th":89.90,"q":-0.20},
{"c":4,"x":-0.40,"vx":0.283,"vz":0.14,"th":90.22,"q":0.32},
{"c":6,"x":0.12,"vx":0.294,"vz":0.16,"th":90.00,"q":0.55},
{"c":3,"x":0.59,"vx":0.301,"vz":0.12,"th":89.84,"q":-0.13},
{"c":5,"x":-0.25,"vx":0.312,"vz":0.15,"th":90.30,"q":0.41},
{"c":2,"x":0.29,"vx":0.319,"vz":0.13,"th":90.13,"q":0.35},
{"c":1,"x":-0.72,"vx":0.331,"vz":0.11,"th":89.96,"q":-0.15},
{"c":0,"x":0.77,"vx":0.342,"vz":0.14,"th":90.45,"q":0.48},
{"c":4,"x":-0.11,"vx":0.349,"vz":0.12,"th":90.08,"q":0.30},
{"c":6,"x":0.43,"vx":0.358,"vz":0.15,"th":89.89,"q":-0.18},
{"c":3,"x":-0.55,"vx":0.364,"vz":0.13,"th":90.33,"q":0.43},
{"c":5,"x":0.24,"vx":0.376,"vz":0.11,"th":90.19,"q":0.37},
{"c":2,"x":0.64,"vx":0.387,"vz":0.14,"th":90.49,"q":-0.12}
    ]
  },
  "vconcat": [
    {
      "width": 1143,
      "height": 150,
      "layer": [
        {
          "data": {"name": "runs"},
          "mark": {"type": "point", "shape": "M-1,-1L1,1M-1,1L1,-1", "filled": false, "size": 49, "strokeWidth": 2, "opacity": 1},
          "encoding": {
            "x": {"field": "x", "type": "quantitative", "title": "Final 𝑥 (m)", "scale": {"domain": [-10, 10], "nice": false, "zero": false}, "axis": {"values": [-10, -8, -6, -4, -2, 0, 2, 4, 6, 8, 10]}},
            "y": {"datum": 0, "type": "quantitative", "title": "Final altitude (m)", "scale": {"domain": [-1, 1], "nice": false}, "axis": {"values": [-1, 0, 1]}},
            "color": {"field": "c", "type": "nominal", "scale": {"domain": [0, 1, 2, 3, 4, 5, 6], "range": ["#0072BD", "#D95319", "#EDB120", "#7E2F8E", "#77AC30", "#4DBEEE", "#A2142F"]}, "legend": null}
          }
        },
        {
          "data": {"values": [{"alt": 0, "label": "Success landing conditions"}]},
          "mark": {"type": "rule", "color": "#FF0000", "strokeWidth": 1.5},
          "encoding": {
            "y": {"field": "alt", "type": "quantitative", "title": "Final altitude (m)"},
            "strokeDash": {
              "field": "label", "type": "nominal",
              "scale": {"range": [[7, 4]]},
              "legend": {
                "title": null, "orient": "none", "legendX": 812, "legendY": 3,
                "symbolType": "stroke", "symbolSize": 784, "symbolStrokeWidth": 1.5, "symbolStrokeColor": "#FF0000",
                "labelFont": "Liberation Serif", "labelFontSize": 22, "labelColor": "#000000", "labelOffset": 2, "labelLimit": 400,
                "padding": 2, "strokeColor": "#262626", "fillColor": "#FFFFFF"
              }
            }
          }
        }
      ]
    },
    {
      "width": 1143,
      "height": 150,
      "layer": [
        {
          "data": {"name": "runs"},
          "mark": {"type": "point", "shape": "M-1,-1L1,1M-1,1L1,-1", "filled": false, "size": 49, "strokeWidth": 2, "opacity": 1},
          "encoding": {
            "x": {"field": "vx", "type": "quantitative", "title": "Final 𝑣ₓ (m/s)", "scale": {"domain": [-1.2, 0.8], "nice": false, "zero": false}, "axis": {"values": [-1.2, -1, -0.8, -0.6, -0.4, -0.2, 0, 0.2, 0.4, 0.6, 0.8], "titleY": 42}},
            "y": {"field": "vz", "type": "quantitative", "title": "Final 𝑣𝑧 (m/s)", "scale": {"domain": [0, 1.5], "nice": false}, "axis": {"values": [0, 0.5, 1, 1.5]}},
            "color": {"field": "c", "type": "nominal", "scale": {"domain": [0, 1, 2, 3, 4, 5, 6], "range": ["#0072BD", "#D95319", "#EDB120", "#7E2F8E", "#77AC30", "#4DBEEE", "#A2142F"]}, "legend": null}
          }
        },
        {
          "data": {"values": [{"lo": -0.75, "hi": 0.75, "bot": 0, "top": 1.5}]},
          "mark": {"type": "rect", "fillOpacity": 0, "stroke": "#FF0000", "strokeWidth": 1.5, "strokeDash": [7, 4]},
          "encoding": {
            "x": {"field": "lo", "type": "quantitative", "title": "Final 𝑣ₓ (m/s)"},
            "x2": {"field": "hi"},
            "y": {"field": "bot", "type": "quantitative", "title": "Final 𝑣𝑧 (m/s)"},
            "y2": {"field": "top"}
          }
        }
      ]
    },
    {
      "width": 1143,
      "height": 150,
      "layer": [
        {
          "data": {"name": "runs"},
          "mark": {"type": "point", "shape": "M-1,-1L1,1M-1,1L1,-1", "filled": false, "size": 49, "strokeWidth": 2, "opacity": 1},
          "encoding": {
            "x": {"field": "th", "type": "quantitative", "title": "Final 𝜃 (deg)", "scale": {"domain": [88.5, 91], "nice": false, "zero": false}, "axis": {"values": [88.5, 89, 89.5, 90, 90.5, 91], "titleY": 39}},
            "y": {"field": "q", "type": "quantitative", "title": "Final 𝑞 (deg/s)", "scale": {"domain": [-2, 2], "nice": false}, "axis": {"values": [-2, 0, 2]}},
            "color": {"field": "c", "type": "nominal", "scale": {"domain": [0, 1, 2, 3, 4, 5, 6], "range": ["#0072BD", "#D95319", "#EDB120", "#7E2F8E", "#77AC30", "#4DBEEE", "#A2142F"]}, "legend": null}
          }
        },
        {
          "data": {"values": [{"lo": 89, "hi": 91, "bot": -1.5, "top": 1.5}]},
          "mark": {"type": "rect", "fillOpacity": 0, "stroke": "#FF0000", "strokeWidth": 1.5, "strokeDash": [7, 4]},
          "encoding": {
            "x": {"field": "lo", "type": "quantitative", "title": "Final 𝜃 (deg)"},
            "x2": {"field": "hi"},
            "y": {"field": "bot", "type": "quantitative", "title": "Final 𝑞 (deg/s)"},
            "y2": {"field": "top"}
          }
        }
      ]
    }
  ]
}
